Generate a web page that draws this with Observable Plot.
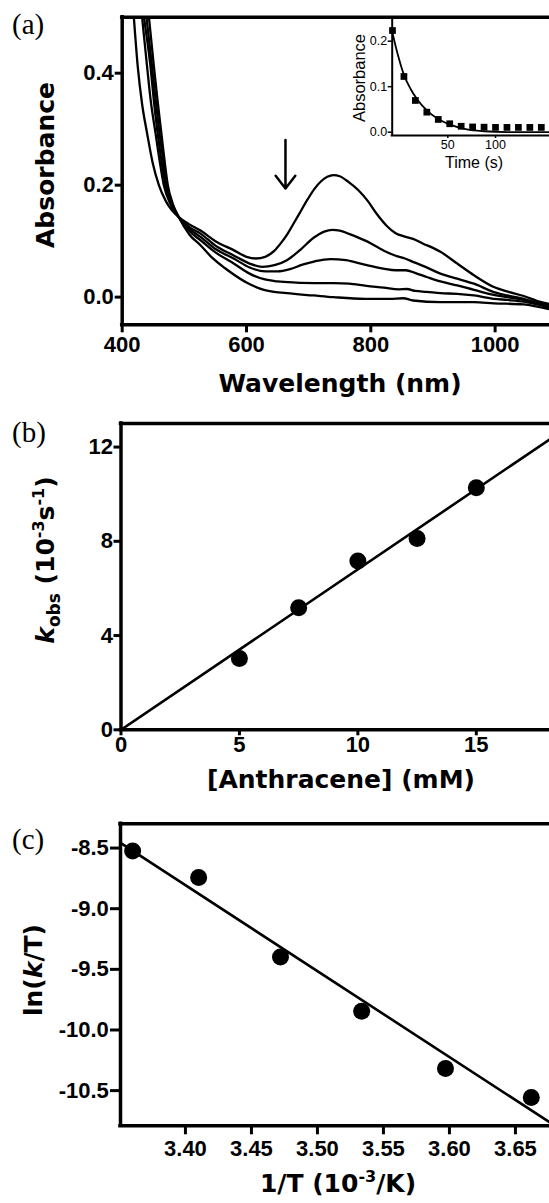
<!DOCTYPE html>
<html><head><meta charset="utf-8">
<script src="https://cdn.jsdelivr.net/npm/d3@7"></script>
<script src="https://cdn.jsdelivr.net/npm/@observablehq/plot@0.6"></script>
<style>
html,body{margin:0;padding:0;background:#fff;}
#wrap{position:relative;width:549px;height:1203px;overflow:hidden;background:#fff;}
</style></head><body><div id="wrap"></div>
<script>
// ---------------- Panel (a): spectra ----------------
const wavelengthDomain = [400, 1087.5];
const absorbanceDomain = [-0.0494, 0.5];
const wavelengthTicks = [400, 600, 800, 1000];
const absorbanceTicks = [0.0, 0.2, 0.4];

const spectrum1 = [[412,0.60],[418.7,0.50],[425,0.412],[432,0.345],[440,0.293],[449,0.240],[459,0.200],[470,0.172],[480,0.155],[491,0.143],[508,0.130],[526,0.119],[550,0.100],[580,0.0835],[600,0.072],[615,0.069],[630,0.072],[645,0.083],[655,0.096],[666,0.113],[676,0.132],[687,0.153],[698,0.174],[709,0.193],[720,0.207],[730,0.215],[740,0.218],[750,0.216],[765,0.205],[780,0.191],[795,0.172],[810,0.148],[825,0.128],[840,0.114],[855,0.108],[868,0.104],[885,0.095],[900,0.088],[912,0.081],[939,0.060],[966,0.039],[998,0.018],[1020,0.010],[1046,0.002],[1068,-0.007],[1090,-0.013]];
const spectrum2 = [[423,0.60],[432,0.50],[440,0.412],[446,0.35],[453.6,0.293],[460,0.245],[467,0.200],[478,0.165],[491,0.143],[508,0.125],[526,0.1135],[550,0.092],[580,0.074],[605,0.060],[625,0.054],[645,0.057],[665,0.066],[687,0.085],[708,0.106],[725,0.117],[738,0.120],[750,0.119],[765,0.113],[793,0.100],[821,0.083],[840,0.074],[855,0.069],[870,0.062],[888,0.054],[912,0.042],[939,0.033],[966,0.024],[998,0.009],[1020,0.003],[1046,-0.003],[1068,-0.011],[1090,-0.017]];
const spectrum3 = [[423,0.60],[435,0.50],[445.5,0.412],[451,0.35],[457,0.293],[463,0.245],[469.7,0.200],[480,0.165],[491,0.143],[508,0.122],[526,0.1075],[550,0.086],[580,0.0686],[605,0.053],[630,0.046],[650,0.046],[670,0.050],[690,0.058],[710,0.064],[735,0.068],[760,0.066],[790,0.058],[820,0.051],[840,0.048],[856,0.048],[872,0.043],[890,0.036],[912,0.028],[939,0.021],[966,0.013],[998,0.004],[1020,0.000],[1046,-0.005],[1068,-0.011],[1090,-0.016]];
const spectrum4 = [[428,0.60],[439,0.50],[448,0.412],[454,0.35],[460,0.293],[466,0.245],[471.3,0.200],[481,0.165],[491,0.143],[508,0.118],[526,0.1016],[550,0.080],[580,0.0597],[605,0.042],[628,0.032],[650,0.028],[680,0.026],[710,0.0252],[740,0.025],[765,0.024],[793,0.020],[821,0.017],[845,0.014],[858,0.0145],[872,0.011],[890,0.0095],[912,0.007],[939,0.006],[966,0.003],[998,-0.003],[1020,-0.005],[1046,-0.008],[1068,-0.013],[1090,-0.019]];
const spectrum5 = [[434,0.60],[443,0.50],[451,0.412],[457,0.35],[463,0.293],[468,0.245],[473.4,0.200],[482,0.165],[491,0.143],[508,0.112],[526,0.0926],[545,0.070],[565,0.052],[580,0.040],[600,0.026],[628,0.013],[665,0.007],[708,0.003],[740,0.000],[790,-0.003],[830,-0.003],[852,-0.002],[868,-0.006],[912,-0.009],[966,-0.009],[998,-0.011],[1046,-0.013],[1068,-0.017],[1090,-0.022]];
const spectra = [spectrum1, spectrum2, spectrum3, spectrum4, spectrum5];
const arrowWavelength = [662.7];
const arrowFrom = [0.2805];
const arrowTo = [0.194];

// Inset of panel (a)
const insetTimeDomain = [-8.3, 156.6];
const insetAbsDomain = [-0.0073, 0.2455];
const insetTimeTicks = [50, 100];
const insetAbsTicks = [0.0, 0.1, 0.2];
const insetTime = [-8, 4, 16, 28, 40, 52, 64, 76, 88, 100, 112, 124, 136, 148];
const insetAbs = [0.2235, 0.1224, 0.0697, 0.044, 0.028, 0.0185, 0.013, 0.0115, 0.011, 0.0105, 0.0105, 0.0105, 0.0105, 0.0105];
const insetFitTime = [-8.4, -3, 4, 11, 18, 28, 39, 53, 70, 88, 112, 157];
const insetFitAbs = [0.222, 0.175, 0.126, 0.095, 0.072, 0.048, 0.030, 0.016, 0.006, 0.002, 0.0002, 0];

// ---------------- Panel (b) ----------------
const concDomain = [0, 18.09];
const kobsDomain = [0, 13];
const concTicks = [0, 5, 10, 15];
const kobsTicks = [0, 4, 8, 12];
const anthracene = [5, 7.5, 10, 12.5, 15];
const kobs = [3.03, 5.18, 7.16, 8.12, 10.27];
const fitConc = [0, 18.09];
const fitKobs = [0, 12.32];

// ---------------- Panel (c) ----------------
const invTDomain = [3.3508, 3.6758];
const lnDomain = [-10.79, -8.3];
const invTTicks = [3.40, 3.45, 3.50, 3.55, 3.60, 3.65];
const lnTicks = [-8.5, -9.0, -9.5, -10.0, -10.5];
const invT = [3.360, 3.410, 3.472, 3.5335, 3.597, 3.662];
const lnkT = [-8.524, -8.743, -9.398, -9.845, -10.318, -10.557];
const fitInvT = [3.3508, 3.6758];
const fitLnkT = [-8.458, -10.76];

// ---------------- drawing ----------------
const sans = "'DejaVu Sans', Verdana, sans-serif";
const arial = "'Liberation Sans', Arial, Helvetica, sans-serif";
const serif = "'Liberation Serif', 'Times New Roman', serif";
const wrap = document.getElementById("wrap");
function place(svg, left, top) {
  svg.style.position = "absolute";
  svg.style.left = left + "px";
  svg.style.top = top + "px";
  wrap.appendChild(svg);
}
function styleTicks(svg, size, weight) {
  d3.select(svg).selectAll("text")
    .style("font-family", arial)
    .style("font-size", size + "px")
    .style("font-weight", weight);
}
function addText(svg, x, y, rot, parts, opts = {}) {
  const t = d3.select(svg).append("text")
    .attr("transform", `translate(${x},${y}) rotate(${rot})`)
    .attr("text-anchor", opts.anchor ?? "middle")
    .style("font-family", opts.family ?? sans)
    .style("font-size", (opts.size ?? 25) + "px")
    .style("font-weight", opts.weight ?? "bold")
    .attr("fill", "#000");
  for (const p of parts) {
    const s = t.append("tspan").text(p.text);
    if (p.dy) s.attr("dy", p.dy);
    if (p.size) s.style("font-size", p.size + "px");
    if (p.italic) s.style("font-style", "italic");
  }
}
const mainStyle = {background: "transparent", color: "black", fontFamily: arial, fontSize: "22px", fontWeight: "bold", overflow: "visible"};
const frameW = 3.5;

// Panel (a)
const plotA = Plot.plot({
  width: 549, height: 400,
  marginTop: 16.7, marginBottom: 75.7, marginLeft: 121.7, marginRight: 0,
  style: mainStyle,
  x: {domain: wavelengthDomain},
  y: {domain: absorbanceDomain},
  marks: [
    ...spectra.map(s => Plot.line(s, {x: d => d[0], y: d => d[1], curve: "monotone-x", stroke: "black", strokeWidth: 2.3, clip: true})),
    Plot.arrow(arrowWavelength, {x1: d => d, x2: d => d, y1: (d, i) => arrowFrom[i], y2: (d, i) => arrowTo[i], stroke: "black", strokeWidth: 2.5, headLength: 10, headAngle: 75}),
    Plot.axisY(absorbanceTicks, {tickSize: 7, tickPadding: 1.4, strokeWidth: 3, tickFormat: d => d.toFixed(1), label: null}),
    Plot.axisX(wavelengthTicks, {tickSize: 8, tickPadding: 4, strokeWidth: 3, tickFormat: d => String(d), label: null}),
    Plot.ruleX([wavelengthDomain[0]], {strokeWidth: frameW, strokeLinecap: "square"}),
    Plot.ruleY([absorbanceDomain[0]], {strokeWidth: frameW, strokeLinecap: "square"}),
    Plot.ruleY([absorbanceDomain[1]], {strokeWidth: frameW, strokeLinecap: "square"})
  ]
});
styleTicks(plotA, 22, "bold");
addText(plotA, 54, 165, -90, [{text: "Absorbance"}]);
addText(plotA, 340, 392, 0, [{text: "Wavelength (nm)"}]);
addText(plotA, 12, 34, 0, [{text: "(a)"}], {anchor: "start", family: serif, size: 29, weight: "normal"});
place(plotA, 0, 0);

// Inset
const plotInset = Plot.plot({
  width: 209, height: 160,
  marginTop: 2, marginBottom: 43, marginLeft: 51.7, marginRight: 0,
  style: {background: "transparent", color: "black", fontFamily: arial, fontSize: "12.5px", fontWeight: "normal", overflow: "visible"},
  x: {domain: insetTimeDomain},
  y: {domain: insetAbsDomain},
  marks: [
    Plot.line(insetFitTime, {x: d => d, y: (d, i) => insetFitAbs[i], curve: "monotone-x", stroke: "black", strokeWidth: 1.8, clip: true}),
    Plot.dot(insetTime, {x: d => d, y: (d, i) => insetAbs[i], symbol: "square", r: 3.8, fill: "black", stroke: "none"}),
    Plot.axisY(insetAbsTicks, {tickSize: 4, tickPadding: 1, strokeWidth: 1.5, tickFormat: d => d.toFixed(1), label: null}),
    Plot.axisX(insetTimeTicks, {tickSize: 3, tickPadding: 2, strokeWidth: 1.5, tickFormat: d => String(d), label: null}),
    Plot.ruleX([insetTimeDomain[0]], {strokeWidth: 2, strokeLinecap: "square"}),
    Plot.ruleY([insetAbsDomain[0]], {strokeWidth: 2, strokeLinecap: "square"})
  ]
});
styleTicks(plotInset, 12.5, "normal");
addText(plotInset, 25, 60, -90, [{text: "Absorbance"}], {family: arial, size: 16.5, weight: "normal"});
addText(plotInset, 134, 150, 0, [{text: "Time (s)"}], {family: arial, size: 16, weight: "normal"});
place(plotInset, 340, 18);

// Panel (b)
const plotB = Plot.plot({
  width: 549, height: 400,
  marginTop: 23, marginBottom: 70.7, marginLeft: 120.5, marginRight: 0,
  style: mainStyle,
  x: {domain: concDomain},
  y: {domain: kobsDomain},
  marks: [
    Plot.line(fitConc, {x: d => d, y: (d, i) => fitKobs[i], stroke: "black", strokeWidth: 2.6, clip: true}),
    Plot.dot(anthracene, {x: d => d, y: (d, i) => kobs[i], r: 8.5, fill: "black", stroke: "none"}),
    Plot.axisY(kobsTicks, {tickSize: 7, tickPadding: 1, strokeWidth: 3, tickFormat: d => String(d), label: null}),
    Plot.axisX(concTicks, {tickSize: 6, tickPadding: 0.5, strokeWidth: 3, tickFormat: d => String(d), label: null}),
    Plot.ruleX([concDomain[0]], {strokeWidth: frameW, strokeLinecap: "square"}),
    Plot.ruleY([kobsDomain[0]], {strokeWidth: frameW, strokeLinecap: "square"}),
    Plot.ruleY([kobsDomain[1]], {strokeWidth: frameW, strokeLinecap: "square"})
  ]
});
styleTicks(plotB, 22, "bold");
addText(plotB, 54, 160, -90, [
  {text: "k", italic: true},
  {text: "obs", size: 17, dy: 6},
  {text: " (10", dy: -6},
  {text: "-3", size: 16, dy: -10},
  {text: "s", dy: 10},
  {text: "-1", size: 16, dy: -10},
  {text: ")", dy: 10}
]);
addText(plotB, 341, 388, 0, [{text: "[Anthracene] (mM)"}]);
addText(plotB, 12, 42, 0, [{text: "(b)"}], {anchor: "start", family: serif, size: 29, weight: "normal"});
place(plotB, 0, 400);

// Panel (c)
const plotC = Plot.plot({
  width: 549, height: 403,
  marginTop: 23.3, marginBottom: 77.7, marginLeft: 120, marginRight: 0,
  style: mainStyle,
  x: {domain: invTDomain},
  y: {domain: lnDomain},
  marks: [
    Plot.line(fitInvT, {x: d => d, y: (d, i) => fitLnkT[i], stroke: "black", strokeWidth: 2.6}),
    Plot.dot(invT, {x: d => d, y: (d, i) => lnkT[i], r: 8.5, fill: "black", stroke: "none"}),
    Plot.axisY(lnTicks, {tickSize: 10, tickPadding: 1.7, strokeWidth: 3, tickFormat: d => d.toFixed(1), label: null}),
    Plot.axisX(invTTicks, {tickSize: 9, tickPadding: 5.7, strokeWidth: 3, tickFormat: d => d.toFixed(2), label: null}),
    Plot.ruleX([invTDomain[0]], {strokeWidth: frameW, strokeLinecap: "square"}),
    Plot.ruleY([lnDomain[0]], {strokeWidth: frameW, strokeLinecap: "square"}),
    Plot.ruleY([lnDomain[1]], {strokeWidth: frameW, strokeLinecap: "square"})
  ]
});
styleTicks(plotC, 22, "bold");
addText(plotC, 42, 170, -90, [
  {text: "ln("},
  {text: "k", italic: true},
  {text: "/T)"}
]);
addText(plotC, 338, 391.7, 0, [
  {text: "1/T (10"},
  {text: "-3", size: 16, dy: -10},
  {text: "/K)", dy: 10}
]);
addText(plotC, 12, 49, 0, [{text: "(c)"}], {anchor: "start", family: serif, size: 29, weight: "normal"});
place(plotC, 0, 800);
</script></body></html>
